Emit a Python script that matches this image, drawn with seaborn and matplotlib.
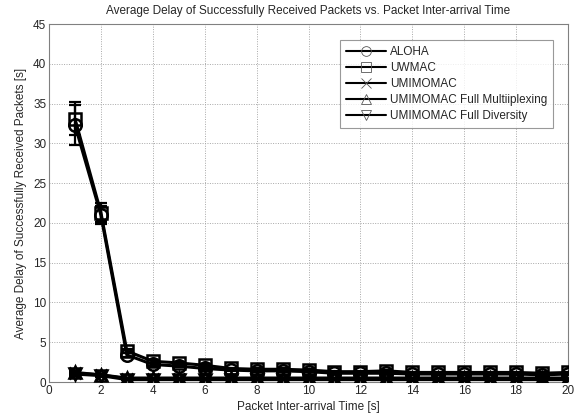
import copy
import numpy as np
import pandas as pd
import matplotlib
matplotlib.use("Agg")
import matplotlib.pyplot as plt
import seaborn as sns

# Packet inter-arrival times [s]
inter_arrival = list(range(1, 21))

# Average delay of successfully received packets [s]
aloha = [32.3, 21.0, 3.4, 2.2, 2.0, 1.7, 1.5, 1.4, 1.4, 1.3,
         1.1, 1.1, 1.1, 1.0, 1.0, 1.0, 1.0, 1.0, 0.9, 1.0]
uwmac = [33.1, 21.3, 3.9, 2.6, 2.4, 2.1, 1.7, 1.6, 1.6, 1.5,
         1.3, 1.3, 1.4, 1.2, 1.2, 1.2, 1.2, 1.2, 1.1, 1.2]
umimomac = [1.1, 0.9, 0.4, 0.4, 0.4, 0.4, 0.4, 0.4, 0.4, 0.4,
            0.4, 0.4, 0.4, 0.4, 0.4, 0.4, 0.4, 0.4, 0.4, 0.4]
umimomac_mux = [1.2, 0.9, 0.5, 0.5, 0.5, 0.5, 0.5, 0.5, 0.5, 0.5,
                0.5, 0.5, 0.5, 0.5, 0.5, 0.5, 0.5, 0.5, 0.5, 0.5]
umimomac_div = [1.0, 0.8, 0.3, 0.3, 0.3, 0.3, 0.3, 0.3, 0.3, 0.3,
                0.3, 0.3, 0.3, 0.3, 0.3, 0.3, 0.3, 0.3, 0.3, 0.3]

# Half-widths of the confidence intervals
aloha_err = [2.5, 1.1, 0.3, 0.2, 0.15, 0.15, 0.1, 0.1, 0.1, 0.1,
             0.1, 0.1, 0.1, 0.1, 0.1, 0.1, 0.1, 0.1, 0.1, 0.1]
uwmac_err = [2.1, 1.2, 0.3, 0.2, 0.15, 0.15, 0.1, 0.1, 0.1, 0.1,
             0.1, 0.1, 0.1, 0.1, 0.1, 0.1, 0.1, 0.1, 0.1, 0.1]
small_err = [0.2, 0.15, 0.05, 0.05, 0.05, 0.05, 0.05, 0.05, 0.05, 0.05,
             0.05, 0.05, 0.05, 0.05, 0.05, 0.05, 0.05, 0.05, 0.05, 0.05]

labels = ["ALOHA", "UWMAC", "UMIMOMAC", "UMIMOMAC Full Multiiplexing",
          "UMIMOMAC Full Diversity"]
series = [aloha, uwmac, umimomac, umimomac_mux, umimomac_div]
errors = [aloha_err, uwmac_err, small_err, small_err, small_err]
markers = ["o", "s", "x", "^", "v"]

df = pd.concat(
    [pd.DataFrame({"x": inter_arrival, "y": s, "err": e, "protocol": l})
     for l, s, e in zip(labels, series, errors)],
    ignore_index=True,
)

sns.set_style("white")
plt.rcParams["font.family"] = ["Liberation Sans", "DejaVu Sans"]
plt.rcParams["font.size"] = 8.5

fig = plt.figure(figsize=(5.84, 4.19), dpi=100)
ax = fig.add_axes([49 / 584, 37 / 419, (568 - 49) / 584, (382 - 24) / 419])

for l, m in zip(labels, markers):
    d = df[df["protocol"] == l]
    # confidence interval
    ax.errorbar(d["x"], d["y"], yerr=d["err"], fmt="none", ecolor="black",
                elinewidth=1.6, capsize=4, capthick=1.6, zorder=2)
    sns.lineplot(
        data=d, x="x", y="y", color="black", marker=m, linewidth=2.2,
        markersize=9, markerfacecolor="none", markeredgecolor="black",
        markeredgewidth=1.8, label=l, ax=ax, zorder=3,
    )

ax.set_xlim(0, 20)
ax.set_ylim(0, 45)
ax.set_xticks(range(0, 21, 2))
ax.set_yticks(range(0, 46, 5))
ax.grid(True, color="#a8a8a8", linestyle=(0, (1, 1.5)), linewidth=0.7)
ax.tick_params(direction="in", length=3, color="#808080", labelsize=8.5,
               pad=2)
for sp in ax.spines.values():
    sp.set_color("#808080")
    sp.set_linewidth(0.8)

ax.set_title("Average Delay of Successfully Received Packets vs. Packet Inter-arrival Time",
             fontsize=8.5, pad=7)
ax.set_xlabel("Packet Inter-arrival Time [s]", fontsize=8.5, labelpad=3)
ax.set_ylabel("Average Delay of Successfully Received Packets [s]",
              fontsize=8.5, labelpad=4)

# Legend uses lighter copies of the plotted lines
handles, lbls = ax.get_legend_handles_labels()
leg_handles = []
for h in handles:
    c = copy.copy(h)
    c.set_linewidth(1.5)
    c.set_markersize(7)
    c.set_markeredgewidth(0.6)
    c.set_markeredgecolor("#555555")
    leg_handles.append(c)
leg = ax.legend(leg_handles, lbls, loc="upper right",
                bbox_to_anchor=((553 - 49) / 519, (382 - 40) / 358),
                borderaxespad=0, frameon=True, fancybox=False,
                edgecolor="#808080", fontsize=8.5, handlelength=3.4,
                labelspacing=0.35, borderpad=0.5, handletextpad=0.3)
leg.get_frame().set_linewidth(0.8)

fig.savefig("out.png", dpi=100)
